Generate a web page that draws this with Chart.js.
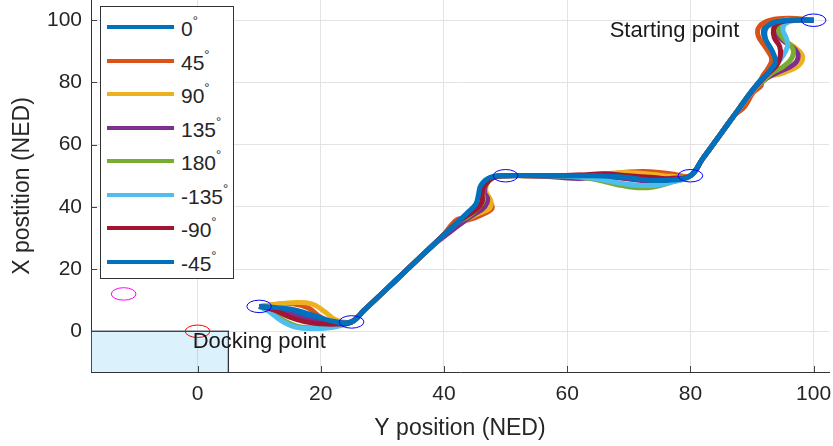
<!DOCTYPE html>
<html lang="en">

<head>
    <meta charset="UTF-8">
    <title>Docking trajectories</title>
    <script src="https://cdn.jsdelivr.net/npm/chart.js"></script>
    <style>
        body { margin: 0; background: #fff; }
        #wrap { position: relative; width: 833px; height: 446px; }
        #legenda {
            position: absolute; left: 100px; top: 6px; width: 132px; height: 271px;
            border: 1px solid #333; background: #fff;
            font-family: "Liberation Sans", Arial, sans-serif; font-size: 21px; color: #262626;
        }
        .item { position: absolute; left: 6px; height: 30px; }
        .item i { position: absolute; left: 0; top: 13px; width: 67px; height: 4px; }
        .item span { position: absolute; left: 74px; top: 4px; white-space: nowrap; }
        .item sup { font-size: 13px; position: relative; top: -3px; }
    </style>
</head>

<body>
    <div id="wrap">
        <canvas id="grafico" width="833" height="446"></canvas>
        <div id="legenda"></div>
    </div>

    <script>
        // headings tested (deg) and their colours
        const headings = ['0', '45', '90', '135', '180', '-135', '-90', '-45'];
        const colors = ['#0072BD', '#D95319', '#EDB120', '#7E2F8E', '#77AC30', '#4DBEEE', '#A2142F', '#0072BD'];

        // trajectories: east (Y position) and north (X position)
        const east0   = [100, 96.5, 93.5, 92, 92, 93, 93.6, 92.8, 91.6, 90, 87, 84, 82, 80, 77, 73, 69, 62, 56, 50, 48, 46.5, 45.9, 45.5, 44.6, 42, 38, 34, 30, 27, 25, 22.5, 19.5, 16.5, 13.5, 10];
        const north0  = [100, 100.3, 99.5, 97.5, 94.5, 91, 87.5, 84.2, 81.3, 77.3, 69.1, 60.9, 55.5, 50, 48.8, 48.9, 49.8, 50, 50, 50, 49.5, 47.2, 44.3, 41.5, 38.8, 34.7, 27.3, 19.8, 12.3, 6.7, 3, 3, 4, 5.5, 7, 8];

        const east45  = [100, 96, 93, 91.2, 91, 92.3, 93.2, 92.6, 91.6, 91.5, 90.2, 88.8, 87, 84, 82, 80, 77, 73.5, 70, 66, 60, 55, 50, 47.8, 46.8, 46.6, 47.5, 47.8, 46.5, 44, 42.2, 39.6, 34, 30, 27, 25, 22.5, 20, 18, 15.5, 12.5, 10];
        const north45 = [100, 100.6, 100, 98, 95, 91, 87.5, 84.5, 81.5, 79, 76.8, 72.2, 69.1, 60.9, 55.5, 50, 50.6, 51.3, 51.2, 50.4, 50.1, 50, 50, 49.6, 47.5, 44.5, 41.5, 39.5, 37.8, 35.8, 36, 30.3, 19.8, 12.3, 6.7, 3, 2.5, 4.5, 7.5, 8.8, 8.6, 8];

        const east90  = [100, 96.5, 94, 93.4, 94.5, 96.8, 98.2, 97.6, 95, 92.5, 90.2, 87, 84, 82, 80, 77, 74, 70, 66, 62, 57, 50, 48, 47, 46.8, 47.6, 47.4, 45.5, 43, 38, 34, 30, 27, 25, 22.5, 20.5, 18.5, 15.5, 12.5, 10];
        const north90 = [100, 100.2, 99.3, 97.3, 94.5, 91.5, 88.5, 85.5, 83, 81.5, 77.3, 69.1, 60.9, 55.5, 50, 49.8, 50.4, 51, 50.6, 49.8, 49.9, 50, 49.5, 47.5, 45, 42, 39.5, 37.8, 35, 27.3, 19.8, 12.3, 6.7, 3, 3.6, 6.5, 8.8, 9.2, 8.6, 8];

        const east135  = [100, 96.5, 94.5, 93.8, 95, 96.8, 97.5, 96.8, 94.5, 92.3, 90.1, 87, 84, 82, 80, 77, 73, 69, 65, 62, 58, 54, 50, 48, 46.8, 46.6, 47.1, 46.5, 44.8, 42.5, 38, 34, 30, 27, 25, 22.5, 20, 17.5, 15, 12.5, 10];
        const north135 = [100, 100, 98.8, 96.5, 93.5, 91, 88.5, 85.8, 83.5, 81.3, 77.3, 69.1, 60.9, 55.5, 50, 49.2, 48.4, 49.2, 49.6, 49.1, 49.6, 50, 50, 49.4, 47.2, 44.5, 42.5, 39.8, 37.5, 34.2, 27.3, 19.8, 12.3, 6.7, 3, 2.9, 3, 3.8, 5.5, 7.3, 8];

        const east180  = [100, 96.5, 94.8, 94.3, 95.2, 96.6, 96.5, 95.2, 93.2, 91.8, 90, 87, 84, 82, 80, 77, 74, 71, 68, 64, 60, 55, 50, 48, 46.7, 46.3, 46.4, 45.5, 44, 42, 38, 34, 30, 27, 25, 22.5, 19.5, 16.5, 14, 12, 10];
        const north180 = [100, 100.2, 99, 96.5, 93.8, 91, 88, 85.3, 83, 80.5, 77.3, 69.1, 60.9, 55.5, 50, 48, 46.4, 46.2, 47.2, 49, 49.8, 50, 50, 49.4, 47.3, 44.5, 42, 39.5, 37, 34.7, 27.3, 19.8, 12.3, 6.7, 3, 1.8, 1.2, 1.5, 3.5, 6.2, 8];

        const eastM135  = [100, 97, 95.5, 95, 95.5, 95.8, 95, 93.8, 92.6, 91.4, 90, 87, 84, 82, 80, 77, 74, 71, 68, 64, 60, 50, 48, 46.6, 46.1, 45.8, 45, 42, 38, 34, 30, 27, 25, 22, 19, 16, 13.5, 11.5, 10];
        const northM135 = [100, 100, 99, 97, 94.5, 92, 88.5, 85.5, 82.8, 80.3, 77.3, 69.1, 60.9, 55.5, 50, 48, 46.9, 47, 47.8, 49.3, 49.9, 50, 49.5, 47.3, 44.5, 41.6, 39, 34.7, 27.3, 19.8, 12.3, 6.7, 3, 1.3, 0.9, 1.3, 3.5, 6.5, 8];

        const eastM90  = [100, 96.5, 94.2, 93.5, 93.6, 94.5, 94.6, 94, 92.7, 91.5, 90, 87, 84, 82, 80, 77, 74, 70, 66, 62, 57, 50, 47.9, 46.6, 46.2, 46.2, 45.4, 42, 38, 34, 30, 27, 25, 22.5, 20, 17.5, 15, 12.5, 10];
        const northM90 = [100, 100, 99, 97, 94.5, 91.5, 88.5, 85.5, 83, 80.6, 77.3, 69.1, 60.9, 55.5, 50, 49, 49.4, 50, 50.6, 50.2, 50, 50, 49.4, 47, 44.2, 41.8, 39.4, 34.7, 27.3, 19.8, 12.3, 6.7, 3, 2.3, 2.4, 3, 4.5, 6.8, 8];

        const eastM45  = [100, 97, 94, 92.3, 92.2, 93.3, 93.8, 92.8, 91.5, 90, 87, 84, 82, 80, 77, 73, 69, 64, 57, 52, 50, 47.5, 46, 45.6, 45.2, 44, 42, 38, 34, 30, 27, 25, 22, 19, 16, 13, 10];
        const northM45 = [100, 100, 99.5, 97.5, 94, 90, 86.5, 83.5, 80.8, 77.3, 69.1, 60.9, 55.5, 50, 48.6, 48.6, 49.6, 50, 50, 50.1, 50, 49.5, 47, 44, 41, 38.5, 34.7, 27.3, 19.8, 12.3, 6.7, 3, 3.2, 5, 6.8, 7.6, 8];

        const eastSeries  = [east0, east45, east90, east135, east180, eastM135, eastM90, eastM45];
        const northSeries = [north0, north45, north90, north135, north180, northM135, northM90, northM45];

        // waypoints (blue circles), targets, docking zone
        const wayEast  = [100, 80, 50, 25, 10];
        const wayNorth = [100, 50, 50, 3, 8];
        const dockEast = [0, -12];
        const dockNorth = [0, 12];
        const zoneEast = [-25, 5];
        const zoneNorth = [-20, 0];

        // tick labels
        const xTicks = [0, 20, 40, 60, 80, 100];
        const yTicks = [0, 20, 40, 60, 80, 100];

        const fonte = '"Liberation Sans", Arial, sans-serif';

        // legenda em HTML dentro do eixo
        const legenda = document.getElementById('legenda');
        headings.forEach((h, i) => {
            legenda.innerHTML += `<div class="item" style="top:${5 + i * 33.5}px"><i style="background:${colors[i]}"></i><span>${h}<sup>°</sup></span></div>`;
        });

        const extras = {
            id: 'extras',
            beforeDatasetsDraw(chart) {
                const { ctx, chartArea: a, scales: { x, y } } = chart;
                ctx.save();
                ctx.beginPath();
                ctx.rect(a.left, a.top, a.right - a.left, a.bottom - a.top);
                ctx.clip();
                const x0 = x.getPixelForValue(zoneEast[0]), x1 = x.getPixelForValue(zoneEast[1]);
                const y0 = y.getPixelForValue(zoneNorth[0]), y1 = y.getPixelForValue(zoneNorth[1]);
                ctx.fillStyle = 'rgba(77,190,238,0.2)';
                ctx.fillRect(x0, y1, x1 - x0, y0 - y1);
                ctx.strokeStyle = '#333';
                ctx.lineWidth = 1.3;
                ctx.strokeRect(x0, y1, x1 - x0, y0 - y1);
                // marcas de escala para dentro, estilo MATLAB
                ctx.strokeStyle = '#444';
                ctx.lineWidth = 1;
                ctx.beginPath();
                xTicks.forEach(v => {
                    const px = Math.round(x.getPixelForValue(v)) + 0.5;
                    ctx.moveTo(px, a.bottom); ctx.lineTo(px, a.bottom - 6);
                });
                yTicks.forEach(v => {
                    const py = Math.round(y.getPixelForValue(v)) + 0.5;
                    ctx.moveTo(a.left, py); ctx.lineTo(a.left + 6, py);
                });
                ctx.stroke();
                ctx.restore();
            },
            afterDatasetsDraw(chart) {
                const { ctx, scales: { x, y } } = chart;
                const rx = Math.abs(x.getPixelForValue(2) - x.getPixelForValue(0));
                const ry = Math.abs(y.getPixelForValue(2) - y.getPixelForValue(0));
                ctx.save();
                ctx.lineWidth = 1;
                const elipse = (e, n, cor) => {
                    ctx.strokeStyle = cor;
                    ctx.beginPath();
                    ctx.ellipse(x.getPixelForValue(e), y.getPixelForValue(n), rx, ry, 0, 0, Math.PI * 2);
                    ctx.stroke();
                };
                wayEast.forEach((e, i) => elipse(e, wayNorth[i], '#0000ff'));
                elipse(dockEast[0], dockNorth[0], '#ff0000');
                elipse(dockEast[1], dockNorth[1], '#ff00ff');

                ctx.fillStyle = '#1a1a1a';
                ctx.font = '22px ' + fonte;
                ctx.textBaseline = 'alphabetic';
                ctx.fillText('Starting point', x.getPixelForValue(66.9), y.getPixelForValue(94.5));
                ctx.fillText('Docking point', x.getPixelForValue(-0.8), y.getPixelForValue(-5.5));
                ctx.restore();
            }
        };

        const datasets = headings.map((h, i) => ({
            label: h + '°',
            data: eastSeries[i].map((e, k) => ({ x: e, y: northSeries[i][k] })),
            borderColor: colors[i],
            backgroundColor: colors[i],
            borderWidth: 5,
            showLine: true,
            tension: 0.4,
            pointRadius: 0,
            order: headings.length - i
        }));

        new Chart(document.getElementById('grafico').getContext('2d'), {
            type: 'scatter',
            data: { datasets },
            options: {
                responsive: false,
                animation: false,
                layout: { padding: { top: 0, right: 4, left: 0, bottom: 0 } },
                plugins: { legend: { display: false }, tooltip: { enabled: false } },
                scales: {
                    x: {
                        type: 'linear', min: -17.3, max: 102.5,
                        afterBuildTicks: s => { s.ticks = xTicks.map(v => ({ value: v })); },
                        afterFit: s => { s.height = 74; s.paddingLeft = 0; s.paddingRight = 0; },
                        grid: { color: '#e3e3e3', drawTicks: false },
                        border: { color: '#333', width: 1 },
                        ticks: { padding: 10, color: '#262626', font: { size: 21, family: fonte } },
                        title: { display: true, text: 'Y position (NED)', color: '#262626', font: { size: 23, family: fonte }, padding: { top: 0, bottom: 4 } }
                    },
                    y: {
                        type: 'linear', min: -13.1, max: 106.5,
                        afterBuildTicks: s => { s.ticks = yTicks.map(v => ({ value: v })); },
                        afterFit: s => { s.width = 91; s.paddingTop = 0; s.paddingBottom = 0; },
                        grid: { color: '#e3e3e3', drawTicks: false },
                        border: { color: '#333', width: 1 },
                        ticks: { padding: 9, color: '#262626', font: { size: 21, family: fonte } },
                        title: { display: true, text: 'X postition (NED)', color: '#262626', font: { size: 23, family: fonte }, padding: { top: 9, bottom: 0 } }
                    }
                }
            },
            plugins: [extras]
        });
    </script>
</body>

</html>
